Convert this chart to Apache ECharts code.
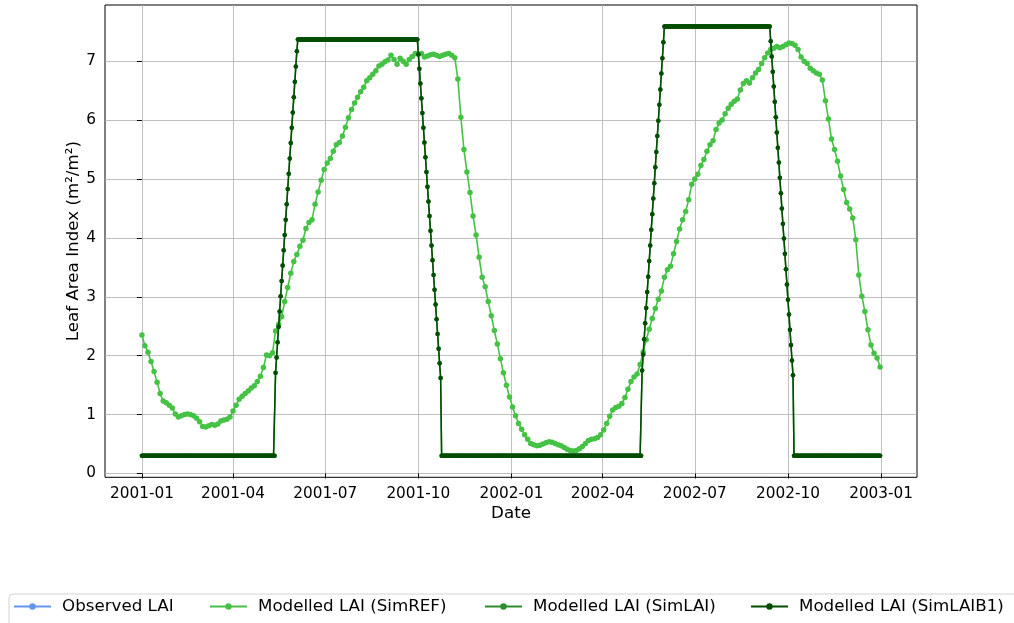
<!DOCTYPE html>
<html><head><meta charset="utf-8">
<script src="https://cdn.jsdelivr.net/npm/echarts@6/dist/echarts.min.js"></script>
<style>html,body{margin:0;padding:0;background:#fff}#c{width:1014px;height:623px}</style>
</head><body><div id="c"></div>
<script>
// x positions are day offsets from 2001-01-01
const xTickDays = [0, 90, 181, 273, 365, 455, 546, 638, 730];
const xTickLabels = ['2001-01','2001-04','2001-07','2001-10','2002-01','2002-04','2002-07','2002-10','2003-01'];
const yTicks = [0, 1, 2, 3, 4, 5, 6, 7];

// SimREF, one value every 3 days starting 2001-01-01
const refStepDays = 3;
const simREF = [
2.35,2.17,2.06,1.90,1.73,1.55,1.36,1.23,1.20,1.16,1.11,1.01,
0.96,0.98,1.00,1.01,1.00,0.98,0.94,0.88,0.80,0.79,0.81,0.83,
0.82,0.84,0.89,0.91,0.92,0.96,1.06,1.16,1.26,1.31,1.36,1.40,
1.45,1.49,1.56,1.65,1.80,2.01,2.00,2.05,2.42,2.53,2.66,2.92,
3.16,3.40,3.60,3.72,3.86,3.96,4.16,4.26,4.31,4.57,4.78,4.98,
5.16,5.27,5.35,5.47,5.58,5.62,5.73,5.88,6.04,6.18,6.29,6.39,
6.48,6.56,6.67,6.72,6.78,6.84,6.92,6.95,6.99,7.02,7.10,7.03,
6.95,7.05,7.00,6.95,7.03,7.08,7.13,7.12,7.13,7.07,7.09,7.11,
7.12,7.10,7.08,7.10,7.12,7.13,7.10,7.06,6.70,6.05,5.50,5.12,
4.77,4.37,4.05,3.67,3.33,3.17,2.92,2.68,2.43,2.20,1.95,1.71,
1.50,1.30,1.13,0.98,0.85,0.75,0.66,0.58,0.51,0.49,0.47,0.48,
0.50,0.52,0.54,0.53,0.51,0.49,0.47,0.44,0.41,0.39,0.38,0.39,
0.42,0.46,0.51,0.56,0.58,0.59,0.61,0.66,0.74,0.85,0.97,1.08,
1.12,1.14,1.19,1.29,1.43,1.56,1.64,1.69,1.85,2.06,2.27,2.45,
2.63,2.80,2.96,3.10,3.33,3.46,3.52,3.73,3.94,4.15,4.31,4.45,
4.65,4.91,5.00,5.08,5.23,5.33,5.47,5.58,5.65,5.84,5.95,6.00,
6.11,6.20,6.27,6.32,6.36,6.51,6.62,6.67,6.63,6.72,6.80,6.86,
6.96,7.06,7.14,7.20,7.22,7.25,7.23,7.25,7.28,7.31,7.30,7.27,
7.20,7.07,7.00,6.96,6.88,6.84,6.80,6.78,6.68,6.33,6.02,5.68,
5.50,5.30,5.05,4.82,4.60,4.49,4.34,3.97,3.37,3.01,2.75,2.44,
2.18,2.04,1.96,1.81
];

// SimLAIB1, daily values, written in consecutive pieces
const b1Low2001 = [ // days 0-131
0.3,0.3,0.3,0.3,0.3,0.3,0.3,0.3,0.3,0.3,0.3,0.3,
0.3,0.3,0.3,0.3,0.3,0.3,0.3,0.3,0.3,0.3,0.3,0.3,
0.3,0.3,0.3,0.3,0.3,0.3,0.3,0.3,0.3,0.3,0.3,0.3,
0.3,0.3,0.3,0.3,0.3,0.3,0.3,0.3,0.3,0.3,0.3,0.3,
0.3,0.3,0.3,0.3,0.3,0.3,0.3,0.3,0.3,0.3,0.3,0.3,
0.3,0.3,0.3,0.3,0.3,0.3,0.3,0.3,0.3,0.3,0.3,0.3,
0.3,0.3,0.3,0.3,0.3,0.3,0.3,0.3,0.3,0.3,0.3,0.3,
0.3,0.3,0.3,0.3,0.3,0.3,0.3,0.3,0.3,0.3,0.3,0.3,
0.3,0.3,0.3,0.3,0.3,0.3,0.3,0.3,0.3,0.3,0.3,0.3,
0.3,0.3,0.3,0.3,0.3,0.3,0.3,0.3,0.3,0.3,0.3,0.3,
0.3,0.3,0.3,0.3,0.3,0.3,0.3,0.3,0.3,0.3,0.3,0.3
];
const b1Rise2001 = [ // days 132-153
1.71,1.97,2.23,2.49,2.75,3.01,3.27,3.53,3.79,4.05,4.31,
4.57,4.83,5.09,5.35,5.61,5.87,6.13,6.39,6.65,6.91,7.17
];
const b1High2001 = [ // days 154-272
7.37,7.37,7.37,7.37,7.37,7.37,7.37,7.37,7.37,7.37,7.37,7.37,
7.37,7.37,7.37,7.37,7.37,7.37,7.37,7.37,7.37,7.37,7.37,7.37,
7.37,7.37,7.37,7.37,7.37,7.37,7.37,7.37,7.37,7.37,7.37,7.37,
7.37,7.37,7.37,7.37,7.37,7.37,7.37,7.37,7.37,7.37,7.37,7.37,
7.37,7.37,7.37,7.37,7.37,7.37,7.37,7.37,7.37,7.37,7.37,7.37,
7.37,7.37,7.37,7.37,7.37,7.37,7.37,7.37,7.37,7.37,7.37,7.37,
7.37,7.37,7.37,7.37,7.37,7.37,7.37,7.37,7.37,7.37,7.37,7.37,
7.37,7.37,7.37,7.37,7.37,7.37,7.37,7.37,7.37,7.37,7.37,7.37,
7.37,7.37,7.37,7.37,7.37,7.37,7.37,7.37,7.37,7.37,7.37,7.37,
7.37,7.37,7.37,7.37,7.37,7.37,7.37,7.37,7.37,7.37,7.37
];
const b1Fall2001 = [ // days 273-295
7.12,6.87,6.62,6.37,6.12,5.87,5.62,5.37,5.12,4.87,4.62,4.37,
4.12,3.87,3.62,3.37,3.12,2.87,2.62,2.37,2.12,1.87,1.62
];
const b1Low2002 = [ // days 296-493
0.3,0.3,0.3,0.3,0.3,0.3,0.3,0.3,0.3,0.3,0.3,0.3,
0.3,0.3,0.3,0.3,0.3,0.3,0.3,0.3,0.3,0.3,0.3,0.3,
0.3,0.3,0.3,0.3,0.3,0.3,0.3,0.3,0.3,0.3,0.3,0.3,
0.3,0.3,0.3,0.3,0.3,0.3,0.3,0.3,0.3,0.3,0.3,0.3,
0.3,0.3,0.3,0.3,0.3,0.3,0.3,0.3,0.3,0.3,0.3,0.3,
0.3,0.3,0.3,0.3,0.3,0.3,0.3,0.3,0.3,0.3,0.3,0.3,
0.3,0.3,0.3,0.3,0.3,0.3,0.3,0.3,0.3,0.3,0.3,0.3,
0.3,0.3,0.3,0.3,0.3,0.3,0.3,0.3,0.3,0.3,0.3,0.3,
0.3,0.3,0.3,0.3,0.3,0.3,0.3,0.3,0.3,0.3,0.3,0.3,
0.3,0.3,0.3,0.3,0.3,0.3,0.3,0.3,0.3,0.3,0.3,0.3,
0.3,0.3,0.3,0.3,0.3,0.3,0.3,0.3,0.3,0.3,0.3,0.3,
0.3,0.3,0.3,0.3,0.3,0.3,0.3,0.3,0.3,0.3,0.3,0.3,
0.3,0.3,0.3,0.3,0.3,0.3,0.3,0.3,0.3,0.3,0.3,0.3,
0.3,0.3,0.3,0.3,0.3,0.3,0.3,0.3,0.3,0.3,0.3,0.3,
0.3,0.3,0.3,0.3,0.3,0.3,0.3,0.3,0.3,0.3,0.3,0.3,
0.3,0.3,0.3,0.3,0.3,0.3,0.3,0.3,0.3,0.3,0.3,0.3,
0.3,0.3,0.3,0.3,0.3,0.3
];
const b1Rise2002 = [ // days 494-515
1.75,2.02,2.28,2.55,2.81,3.08,3.34,3.61,3.87,4.14,4.40,
4.67,4.93,5.20,5.46,5.73,5.99,6.26,6.52,6.79,7.05,7.32
];
const b1High2002 = [ // days 516-620
7.59,7.59,7.59,7.59,7.59,7.59,7.59,7.59,7.59,7.59,7.59,7.59,
7.59,7.59,7.59,7.59,7.59,7.59,7.59,7.59,7.59,7.59,7.59,7.59,
7.59,7.59,7.59,7.59,7.59,7.59,7.59,7.59,7.59,7.59,7.59,7.59,
7.59,7.59,7.59,7.59,7.59,7.59,7.59,7.59,7.59,7.59,7.59,7.59,
7.59,7.59,7.59,7.59,7.59,7.59,7.59,7.59,7.59,7.59,7.59,7.59,
7.59,7.59,7.59,7.59,7.59,7.59,7.59,7.59,7.59,7.59,7.59,7.59,
7.59,7.59,7.59,7.59,7.59,7.59,7.59,7.59,7.59,7.59,7.59,7.59,
7.59,7.59,7.59,7.59,7.59,7.59,7.59,7.59,7.59,7.59,7.59,7.59,
7.59,7.59,7.59,7.59,7.59,7.59,7.59,7.59,7.59
];
const b1Fall2002 = [ // days 621-643
7.34,7.08,6.82,6.57,6.31,6.05,5.79,5.53,5.28,5.02,4.76,4.50,
4.24,3.99,3.73,3.47,3.21,2.95,2.70,2.44,2.18,1.92,1.67
];
const b1LowEnd = [ // days 644-729
0.3,0.3,0.3,0.3,0.3,0.3,0.3,0.3,0.3,0.3,0.3,0.3,
0.3,0.3,0.3,0.3,0.3,0.3,0.3,0.3,0.3,0.3,0.3,0.3,
0.3,0.3,0.3,0.3,0.3,0.3,0.3,0.3,0.3,0.3,0.3,0.3,
0.3,0.3,0.3,0.3,0.3,0.3,0.3,0.3,0.3,0.3,0.3,0.3,
0.3,0.3,0.3,0.3,0.3,0.3,0.3,0.3,0.3,0.3,0.3,0.3,
0.3,0.3,0.3,0.3,0.3,0.3,0.3,0.3,0.3,0.3,0.3,0.3,
0.3,0.3,0.3,0.3,0.3,0.3,0.3,0.3,0.3,0.3,0.3,0.3,
0.3,0.3
];
const simLAIB1 = [].concat(b1Low2001, b1Rise2001, b1High2001, b1Fall2001,
  b1Low2002, b1Rise2002, b1High2002, b1Fall2002, b1LowEnd);
// SimLAI coincides with SimLAIB1 (hidden beneath it in the picture)
const simLAI = simLAIB1.slice();
const observedLAI = [];

const FONT = 'DejaVu Sans';
const refData = simREF.map((v, i) => [i * refStepDays, v]);
const b1Data = simLAIB1.map((v, i) => [i, v]);
const laiData = simLAI.map((v, i) => [i, v]);

const chart = echarts.init(document.getElementById('c'), null, {renderer: 'canvas'});
const legendCommon = {
  top: 598, padding: 0, itemWidth: 37, itemHeight: 8, selectedMode: false,
  textStyle: {fontFamily: FONT, fontSize: 16.7, color: '#000', padding: [0, 0, 0, 6]}
};
chart.setOption({
  animation: false,
  backgroundColor: '#fff',
  grid: {left: 105, top: 5, width: 812, height: 472.3, show: true,
         borderColor: '#000', borderWidth: 1, backgroundColor: 'transparent'},
  xAxis: {
    type: 'value', min: -36.45, max: 765.45,
    name: 'Date', nameLocation: 'middle', nameGap: 28, nameMoveOverlap: false,
    nameTextStyle: {fontFamily: FONT, fontSize: 16.7, color: '#000'},
    axisLine: {show: false},
    axisTick: {show: true, length: 5, inside: false, customValues: xTickDays,
               lineStyle: {color: '#000', width: 1}},
    axisLabel: {customValues: xTickDays, margin: 9, fontFamily: FONT, fontSize: 15.3, color: '#000',
                formatter: v => xTickLabels[xTickDays.indexOf(v)] || ''},
    splitLine: {show: true, lineStyle: {color: '#b0b0b0', width: 0.8}}
  },
  yAxis: {
    type: 'value', min: -0.0645, max: 7.9545,
    name: 'Leaf Area Index (m²/m²)', nameLocation: 'middle', nameGap: 23, nameMoveOverlap: false,
    nameTextStyle: {fontFamily: FONT, fontSize: 16.7, color: '#000'},
    axisLine: {show: false},
    axisTick: {show: true, length: 5, customValues: yTicks, lineStyle: {color: '#000', width: 1}},
    axisLabel: {customValues: yTicks, margin: 9, fontFamily: FONT, fontSize: 15.3, color: '#000'},
    splitLine: {show: true, lineStyle: {color: '#b0b0b0', width: 0.8}}
  },
  legend: [
    Object.assign({left: 13, data: ['Observed LAI']}, legendCommon),
    Object.assign({left: 209, data: ['Modelled LAI (SimREF)']}, legendCommon),
    Object.assign({left: 484, data: ['Modelled LAI (SimLAI)']}, legendCommon),
    Object.assign({left: 750, data: ['Modelled LAI (SimLAIB1)']}, legendCommon)
  ],
  graphic: [{
    type: 'rect', left: 8.5, top: 593.5, z: -1,
    shape: {width: 1030, height: 60, r: 4},
    style: {fill: '#fff', stroke: '#d4d4d4', lineWidth: 1}
  }],
  series: [
    {name: 'Observed LAI', type: 'line', data: observedLAI, symbol: 'circle', symbolSize: 5,
     itemStyle: {color: '#6495ed'}, lineStyle: {color: '#6495ed', width: 1.5}},
    {name: 'Modelled LAI (SimREF)', type: 'line', data: refData, symbol: 'circle', symbolSize: 5.5,
     showAllSymbol: true, itemStyle: {color: '#45c245'}, lineStyle: {color: '#45c245', width: 1.6}, z: 2},
    {name: 'Modelled LAI (SimLAI)', type: 'line', data: laiData, symbol: 'circle', symbolSize: 4.5,
     showAllSymbol: true, itemStyle: {color: '#2e8b2e'}, lineStyle: {color: '#2e8b2e', width: 1.5}, z: 3},
    {name: 'Modelled LAI (SimLAIB1)', type: 'line', data: b1Data, symbol: 'circle', symbolSize: 4.5,
     showAllSymbol: true, itemStyle: {color: '#004d00'}, lineStyle: {color: '#004d00', width: 1.5}, z: 4}
  ]
});
</script></body></html>
